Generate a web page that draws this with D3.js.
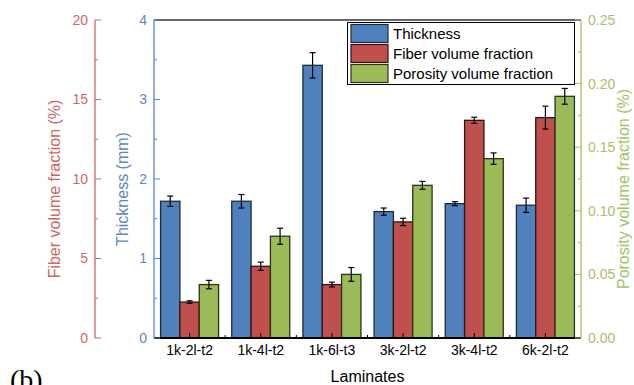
<!DOCTYPE html>
<html>
<head>
<meta charset="utf-8">
<script src="https://cdn.jsdelivr.net/npm/d3@7"></script>
<style>
  body { margin: 0; background: #fff; }
  svg { font-family: "Liberation Sans", Arial, sans-serif; }
</style>
</head>
<body>
<div id="chart"></div>
<script>
// data
var categories = ["1k-2l-t2", "1k-4l-t2", "1k-6l-t3", "3k-2l-t2", "3k-4l-t2", "6k-2l-t2"];
var seriesNames = ["Thickness", "Fiber volume fraction", "Porosity volume fraction"];
var thickness = [1.72, 1.72, 3.43, 1.59, 1.69, 1.67];
var thicknessErr = [0.065, 0.085, 0.16, 0.045, 0.025, 0.09];
var fiber = [2.26, 4.51, 3.36, 7.30, 13.69, 13.86];
var fiberErr = [0.08, 0.26, 0.15, 0.23, 0.19, 0.72];
var porosity = [0.042, 0.080, 0.050, 0.120, 0.141, 0.190];
var porosityErr = [0.0033, 0.0063, 0.0054, 0.0031, 0.0045, 0.0062];
var thickTicks = [0, 1, 2, 3, 4];
var fiberTicks = [0, 5, 10, 15, 20];
var porTicks = [0, 0.05, 0.10, 0.15, 0.20, 0.25];

var width = 634, height = 385;
var plotLeft = 154, plotRight = 581, plotTop = 20, plotBottom = 338;

var blue = "#4f81bd", red = "#c0504d", green = "#9bbb59";
var redAxis = "#cf6763", blueAxis = "#5b88c4", greenAxis = "#a4c266";

var svg = d3.select("#chart").append("svg")
  .attr("width", width)
  .attr("height", height);

var x0 = d3.scaleBand().domain(categories).range([plotLeft, plotRight]).padding(0);
var x1 = d3.scaleBand().domain(seriesNames).range([0, x0.bandwidth()])
  .paddingInner(0).paddingOuter(0.34);

var yT = d3.scaleLinear().domain([0, 4]).range([plotBottom, plotTop]);
var yF = d3.scaleLinear().domain([0, 20]).range([plotBottom, plotTop]);
var yP = d3.scaleLinear().domain([0, 0.25]).range([plotBottom, plotTop]);

var series = [
  { name: seriesNames[0], vals: thickness, errs: thicknessErr, y: yT, color: blue, edge: "#1d2a3a" },
  { name: seriesNames[1], vals: fiber, errs: fiberErr, y: yF, color: red, edge: "#2e1414" },
  { name: seriesNames[2], vals: porosity, errs: porosityErr, y: yP, color: green, edge: "#2a3318" }
];

// bars
series.forEach(function(s) {
  var g = svg.append("g");
  g.selectAll("rect")
    .data(categories)
    .enter().append("rect")
    .attr("x", function(d) { return x0(d) + x1(s.name); })
    .attr("y", function(d, i) { return s.y(s.vals[i]); })
    .attr("width", x1.bandwidth())
    .attr("height", function(d, i) { return plotBottom - s.y(s.vals[i]); })
    .style("fill", s.color)
    .style("stroke", s.edge)
    .style("stroke-width", "1.3px");
});

// error bars
series.forEach(function(s) {
  categories.forEach(function(c, i) {
    var cx = x0(c) + x1(s.name) + x1.bandwidth() / 2;
    var y1 = s.y(s.vals[i] + s.errs[i]), y2 = s.y(s.vals[i] - s.errs[i]);
    svg.append("line").attr("x1", cx).attr("x2", cx).attr("y1", y1).attr("y2", y2)
      .style("stroke", "#000").style("stroke-width", "1.2px");
    [y1, y2].forEach(function(yy) {
      svg.append("line").attr("x1", cx - 3).attr("x2", cx + 3).attr("y1", yy).attr("y2", yy)
        .style("stroke", "#000").style("stroke-width", "1.2px");
    });
  });
});

// top frame line
svg.append("line").attr("x1", plotLeft).attr("x2", plotRight).attr("y1", plotTop).attr("y2", plotTop)
  .style("stroke", "#333").style("stroke-width", "1.5px");

// bottom axis
var xAxis = svg.append("g").attr("transform", "translate(0," + plotBottom + ")")
  .call(d3.axisBottom(x0).tickSize(0).tickPadding(7));
xAxis.select("path").remove();
xAxis.selectAll("text").style("font-size", "14px").style("fill", "#000")
  .style("font-family", "'Liberation Sans', Arial, sans-serif");
svg.append("line").attr("x1", plotLeft).attr("x2", plotRight).attr("y1", plotBottom).attr("y2", plotBottom)
  .style("stroke", "#000").style("stroke-width", "2px");
categories.forEach(function(c, i) {
  var cx = x0(c) + x0.bandwidth() / 2;
  svg.append("line").attr("x1", cx).attr("x2", cx).attr("y1", plotBottom).attr("y2", plotBottom - 5)
    .style("stroke", "#000").style("stroke-width", "1px");
  if (i > 0) {
    svg.append("line").attr("x1", x0(c)).attr("x2", x0(c)).attr("y1", plotBottom).attr("y2", plotBottom - 3)
      .style("stroke", "#000").style("stroke-width", "1px");
  }
});

// helper for a vertical axis with minor ticks
function vAxis(scale, ticks, xPos, dir, color, minorStep) {
  var g = svg.append("g");
  g.append("line").attr("x1", xPos).attr("x2", xPos).attr("y1", plotTop).attr("y2", plotBottom)
    .style("stroke", color).style("stroke-width", "1.3px");
  var minor = d3.range(0, ticks.length - 1).map(function(k) { return ticks[0] + (k + 0.5) * minorStep; });
  minor.forEach(function(v) {
    g.append("line").attr("x1", xPos).attr("x2", xPos + dir * 3)
      .attr("y1", scale(v)).attr("y2", scale(v))
      .style("stroke", color).style("stroke-width", "1px");
  });
  ticks.forEach(function(v) {
    g.append("line").attr("x1", xPos).attr("x2", xPos + dir * 6)
      .attr("y1", scale(v)).attr("y2", scale(v))
      .style("stroke", color).style("stroke-width", "1px");
  });
  return g;
}

// left red axis (fiber)
var gF = vAxis(yF, fiberTicks, 95, 1, redAxis, 5);
gF.selectAll("text.tl").data(fiberTicks).enter().append("text")
  .attr("x", 88).attr("y", function(d) { return yF(d); }).attr("dy", "0.35em")
  .attr("text-anchor", "end").style("font-size", "14px").style("fill", redAxis)
  .text(function(d) { return d; });

// blue axis (thickness)
var gT = vAxis(yT, thickTicks, 154, 1, blueAxis, 1);
gT.selectAll("text.tl").data(thickTicks).enter().append("text")
  .attr("x", 147).attr("y", function(d) { return yT(d); }).attr("dy", "0.35em")
  .attr("text-anchor", "end").style("font-size", "14px").style("fill", blueAxis)
  .text(function(d) { return d; });

// right green axis (porosity)
var gP = vAxis(yP, porTicks, 581, -1, greenAxis, 0.05);
gP.selectAll("text.tl").data(porTicks).enter().append("text")
  .attr("x", 588).attr("y", function(d) { return yP(d); }).attr("dy", "0.35em")
  .attr("text-anchor", "start").style("font-size", "14px").style("fill", greenAxis)
  .text(function(d) { return d3.format(".2f")(d); });

// axis titles
svg.append("text").attr("transform", "translate(60,189) rotate(-90)")
  .attr("text-anchor", "middle").style("font-size", "16px").style("fill", redAxis)
  .text("Fiber volume fraction (%)");
svg.append("text").attr("transform", "translate(128,189) rotate(-90)")
  .attr("text-anchor", "middle").style("font-size", "16px").style("fill", blueAxis)
  .text("Thickness (mm)");
svg.append("text").attr("transform", "translate(629,189) rotate(-90)")
  .attr("text-anchor", "middle").style("font-size", "16px").style("fill", greenAxis)
  .text("Porosity volume fraction (%)");
svg.append("text").attr("x", (plotLeft + plotRight) / 2).attr("y", 382)
  .attr("text-anchor", "middle").style("font-size", "16px").style("fill", "#000")
  .text("Laminates");

// panel label (cut by the bottom edge, as in the source figure)
svg.append("text").attr("x", 10).attr("y", 389)
  .style("font-family", "'Liberation Serif', 'Times New Roman', serif")
  .style("font-size", "28px").style("fill", "#000")
  .text("(b)");

// legend
var legend = svg.append("g");
legend.append("rect").attr("x", 347.5).attr("y", 22.5).attr("width", 227).attr("height", 62)
  .style("fill", "#fff").style("stroke", "#000").style("stroke-width", "1px");
series.forEach(function(s, i) {
  var yy = 24.5 + i * 20;
  legend.append("rect").attr("x", 351).attr("y", yy).attr("width", 37).attr("height", 18)
    .style("fill", s.color).style("stroke", s.edge).style("stroke-width", "1.2px");
  legend.append("text").attr("x", 393).attr("y", yy + 9).attr("dy", "0.35em")
    .style("font-size", "15px").style("fill", "#000").text(s.name);
});
</script>
</body>
</html>
